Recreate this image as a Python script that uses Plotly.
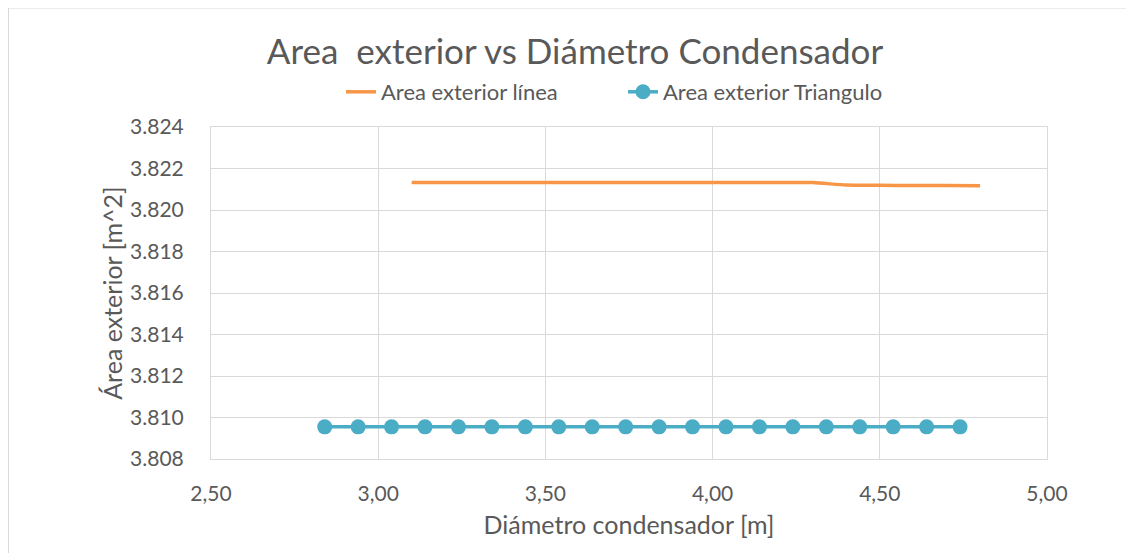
import plotly.graph_objects as go

# Data
x_linea = [3.10, 3.20, 3.30, 3.40, 3.50, 3.60, 3.70, 3.80, 3.90, 4.00,
           4.10, 4.20, 4.30, 4.40, 4.50, 4.60, 4.70, 4.80]
y_linea = [3.82132, 3.82132, 3.82132, 3.82132, 3.82132, 3.82132, 3.82132, 3.82132, 3.82132, 3.82132,
           3.82132, 3.82132, 3.82132, 3.82120, 3.82119, 3.82118, 3.82118, 3.82117]

x_triang = [2.84, 2.94, 3.04, 3.14, 3.24, 3.34, 3.44, 3.54, 3.64, 3.74,
            3.84, 3.94, 4.04, 4.14, 4.24, 4.34, 4.44, 4.54, 4.64, 4.74]
y_triang = [3.80955] * 20

x_ticks = [2.5, 3.0, 3.5, 4.0, 4.5, 5.0]
x_tick_labels = ["2,50", "3,00", "3,50", "4,00", "4,50", "5,00"]
y_ticks = [3.808, 3.810, 3.812, 3.814, 3.816, 3.818, 3.820, 3.822, 3.824]
y_tick_labels = ["3.808", "3.810", "3.812", "3.814", "3.816", "3.818", "3.820", "3.822", "3.824"]

FONT = "Lato"
TXT = "#595959"
GRID = "#d9d9d9"

OFF = 8  # page offset
W, H = 1134, 553
L, R, T, B = 211 - OFF, 1047 - OFF, 127 - OFF, 459 - OFF
pw, ph = R - L, B - T


def px(page_x):
    return (page_x - OFF - L) / pw


def py(page_y):
    return (B - (page_y - OFF)) / ph


fig = go.Figure()
fig.add_trace(go.Scatter(
    x=x_linea, y=y_linea, mode="lines", name="Area exterior línea",
    line=dict(color="#F79646", width=3.5, shape="spline", smoothing=0.6),
    legend="legend",
))
fig.add_trace(go.Scatter(
    x=x_triang, y=y_triang, mode="lines+markers", name="Area exterior Triangulo",
    line=dict(color="#4BACC6", width=3.5),
    marker=dict(color="#4BACC6", size=15),
    legend="legend2",
))

leg_common = dict(orientation="h", yanchor="middle", y=py(92), xanchor="left",
                  font=dict(size=22, color=TXT), bgcolor="rgba(0,0,0,0)")

fig.update_layout(
    width=W, height=H,
    margin=dict(l=L, r=W - R, t=T, b=H - B),
    paper_bgcolor="white", plot_bgcolor="white",
    font=dict(family=FONT, color=TXT, size=21),
    title=dict(text="Area\u00a0 exterior vs Diámetro Condensador",
               x=(575 - OFF) / W, xanchor="center", y=1 - (52 - OFF) / H, yanchor="middle",
               font=dict(size=35, color=TXT, family=FONT)),
    legend=dict(x=px(341), **leg_common),
    legend2=dict(x=px(623), **leg_common),
    showlegend=True,
    xaxis=dict(range=[2.5, 5.0], tickvals=x_ticks, ticktext=x_tick_labels,
               showgrid=True, gridcolor=GRID, gridwidth=1,
               showline=True, linecolor=GRID, linewidth=1, mirror=True,
               zeroline=False, ticks="", ticklabelstandoff=16,
               tickfont=dict(size=21, color=TXT),
               title=dict(text="Diámetro condensador [m]", font=dict(size=25, color=TXT), standoff=12)),
    yaxis=dict(range=[3.808, 3.824], tickvals=y_ticks, ticktext=y_tick_labels,
               showgrid=True, gridcolor=GRID, gridwidth=1,
               showline=True, linecolor=GRID, linewidth=1, mirror=True,
               zeroline=False, ticks="", ticklabelstandoff=22,
               tickfont=dict(size=21, color=TXT),
               title=dict(text="Área exterior [m^2]", font=dict(size=25, color=TXT), standoff=0)),
    shapes=[dict(type="rect", xref="paper", yref="paper",
                 x0=(0.5 - L) / pw, x1=(1140 - L) / pw,
                 y0=(B - 560) / ph, y1=(B - (8 - OFF)) / ph,
                 line=dict(color="#d9d9d9", width=1), fillcolor="rgba(0,0,0,0)", layer="below")],
)

fig.write_html("out.html")
